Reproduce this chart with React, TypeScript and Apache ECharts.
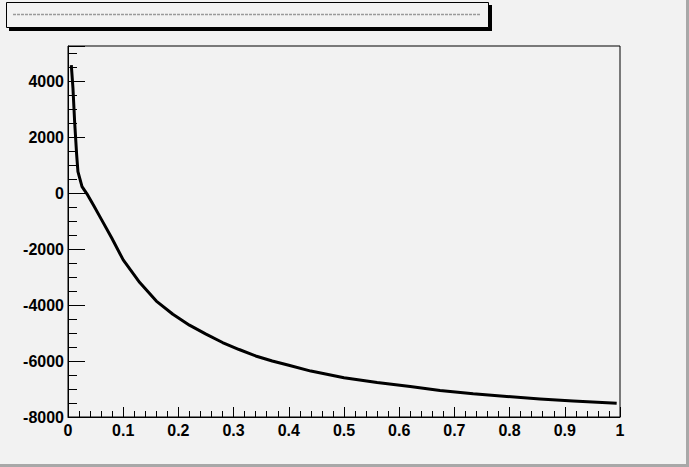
import React, { useEffect, useRef } from "react";
import * as echarts from "echarts";

const xValues = [0.006, 0.009, 0.012, 0.0157, 0.018, 0.0254, 0.034, 0.046, 0.061, 0.079, 0.1, 0.13, 0.16, 0.19, 0.22, 0.25, 0.28, 0.31, 0.34, 0.37, 0.4, 0.44, 0.5, 0.56, 0.62, 0.674, 0.734, 0.795, 0.855, 0.915, 0.994];
const yValues = [4570, 3740, 2550, 1360, 760, 230, -20, -430, -960, -1600, -2390, -3200, -3860, -4330, -4720, -5040, -5340, -5590, -5820, -6000, -6150, -6360, -6600, -6770, -6910, -7050, -7170, -7265, -7355, -7430, -7510];

export default function App() {
  const ref = useRef<HTMLDivElement>(null);
  useEffect(() => {
    if (!ref.current) return;
    const chart = echarts.init(ref.current, undefined, { renderer: "svg" });
    const data = xValues.map((x, i) => [x, yValues[i]]);
    const labelStyle = { color: "#000", fontFamily: "Liberation Sans, Arial, sans-serif", fontWeight: "bold" as const, fontSize: 16 };
    chart.setOption({
      animation: false,
      backgroundColor: "#f2f2f2",
      grid: { left: 68, top: 46, width: 552, height: 371, show: true, borderColor: "#000", borderWidth: 1, backgroundColor: "transparent", containLabel: false },
      xAxis: {
        type: "value", min: 0, max: 1, interval: 0.1,
        axisLine: { show: true, onZero: false, lineStyle: { color: "#000", width: 1 } },
        axisTick: { show: true, inside: true, length: 10, lineStyle: { color: "#000" } },
        minorTick: { show: true, splitNumber: 5, length: 6, lineStyle: { color: "#000" } },
        splitLine: { show: false },
        axisLabel: { ...labelStyle, margin: 5, formatter: (v: number) => String(Math.round(v * 10) / 10) },
      },
      yAxis: {
        type: "value", min: -8000, max: 5250, interval: 2000,
        axisLine: { show: true, onZero: false, lineStyle: { color: "#000", width: 1 } },
        axisTick: { show: true, inside: true, length: 17, lineStyle: { color: "#000" } },
        minorTick: { show: true, splitNumber: 4, length: 9, lineStyle: { color: "#000" } },
        splitLine: { show: false },
        axisLabel: { ...labelStyle, margin: 4, showMaxLabel: false, formatter: (v: number) => String(v) },
      },
      series: [{
        type: "line", data, showSymbol: false, symbol: "none", smooth: false,
        lineStyle: { color: "#000", width: 3, join: "round" },
      }],
      graphic: [
        { type: "rect", shape: { x: 9, y: 5, width: 483, height: 26 }, style: { fill: "#000" }, z: 10 },
        { type: "rect", shape: { x: 6.5, y: 2.5, width: 482, height: 25 }, style: { fill: "#f2f2f2", stroke: "#000", lineWidth: 1 }, z: 11 },
        { type: "line", shape: { x1: 13, y1: 14.5, x2: 481, y2: 14.5 }, style: { stroke: "#9a9a9a", lineWidth: 1.5, lineDash: [3, 1] }, z: 12 },
        { type: "rect", shape: { x: 686, y: 0, width: 3, height: 467 }, style: { fill: "#a8a8a8" }, z: 10 },
        { type: "rect", shape: { x: 0, y: 464, width: 689, height: 3 }, style: { fill: "#a8a8a8" }, z: 10 },
      ],
    });
    return () => chart.dispose();
  }, []);
  return <div ref={ref} style={{ position: "absolute", left: 0, top: 0, width: 689, height: 467 }} />;
}
